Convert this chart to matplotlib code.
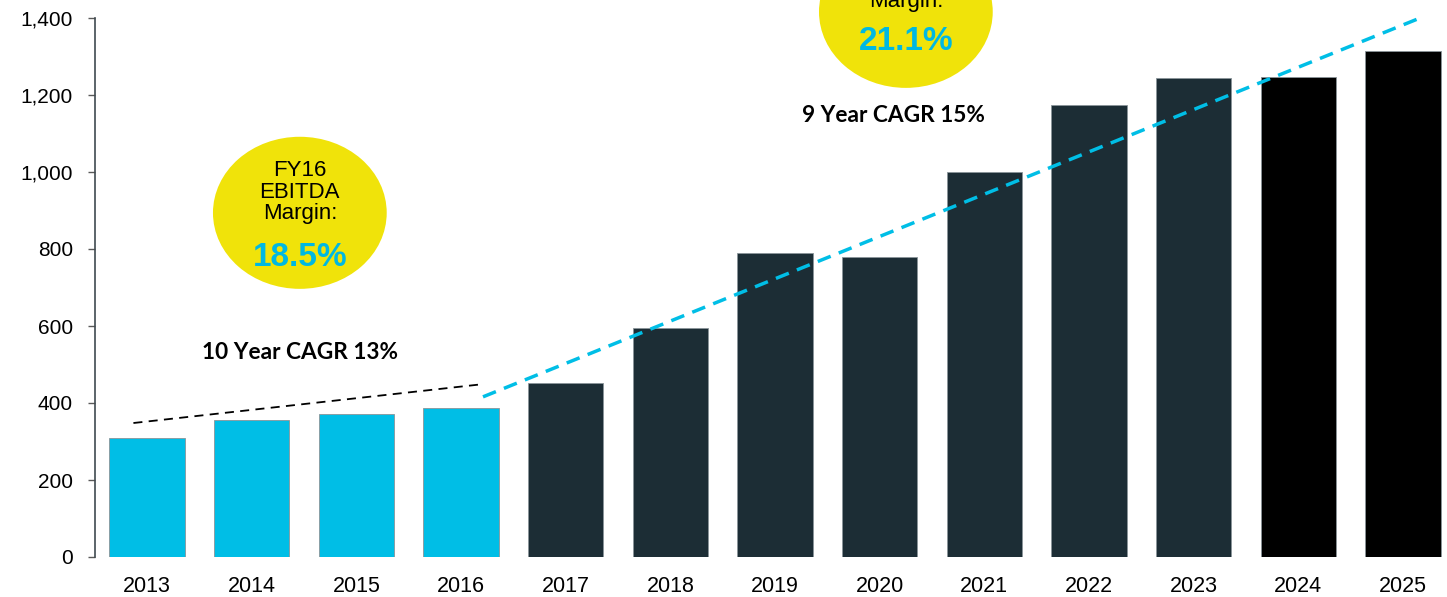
import matplotlib.pyplot as plt
from matplotlib.patches import Ellipse
import numpy as np

# Data
years = ['2013', '2014', '2015', '2016', '2017', '2018', '2019', '2020',
         '2021', '2022', '2023', '2024', '2025']
values = [309, 356, 371, 387, 452, 595, 790, 779, 1000, 1174, 1244, 1247, 1314]
bar_colors = ['#00BEE6'] * 4 + ['#1C2D35'] * 7 + ['#000000'] * 2
yticks = [0, 200, 400, 600, 800, 1000, 1200, 1400]

# trend lines (start / end points)
trend_10y_x = [-0.13, 3.21]
trend_10y_y = [348, 449]
trend_9y_x = [3.21, 12.19]
trend_9y_y = [416, 1403]

plt.rcParams['font.family'] = ['Liberation Sans', 'DejaVu Sans']

fig = plt.figure(figsize=(14.47, 5.97), dpi=100)
ax = fig.add_axes([95 / 1447, 40 / 597, 1 - 95 / 1447, 539 / 597])

x = np.arange(len(years))
ax.bar(x, values, width=0.72, color=bar_colors, edgecolor='#8A9499', linewidth=0.6, zorder=2)

ax.plot(trend_10y_x, trend_10y_y, color='black', linestyle=(0, (5, 3.5)), linewidth=1.3, zorder=3)
ax.plot(trend_9y_x, trend_9y_y, color='#00BEE6', linestyle=(0, (4, 2.5)), linewidth=2.5,
        zorder=3, clip_on=False)

ax.set_xlim(-0.497, 12.42)
ax.set_ylim(0, 1400)
ax.set_xticks(x)
ax.set_xticklabels(years, fontsize=15.5)
ax.set_yticks(yticks)
ax.set_yticklabels(['{:,}'.format(v) for v in yticks], fontsize=15)
ax.tick_params(axis='x', length=0, pad=14)
ax.tick_params(axis='y', length=5, width=1, color='#595959', pad=11)

for s in ['top', 'right', 'bottom']:
    ax.spines[s].set_visible(False)
ax.spines['left'].set_color('#404A50')
ax.spines['left'].set_linewidth(1.2)

# yellow bubbles
yellow = '#F0E30A'
cyan_txt = '#00B8E2'
ax.add_patch(Ellipse((1.46, 894), 1.66, 395, facecolor=yellow, edgecolor='none',
                     zorder=4, clip_on=False))
ax.add_patch(Ellipse((7.25, 1416), 1.66, 395, facecolor=yellow, edgecolor='none',
                     zorder=4, clip_on=False))

ax.text(1.46, 1003, 'FY16', ha='center', va='center', fontsize=16, zorder=5)
ax.text(1.46, 948, 'EBITDA', ha='center', va='center', fontsize=16, zorder=5)
ax.text(1.46, 893, 'Margin:', ha='center', va='center', fontsize=16, zorder=5)
ax.text(1.46, 777, '18.5%', ha='center', va='center', fontsize=24, fontweight='bold',
        color=cyan_txt, zorder=5)

ax.text(7.25, 1442, 'Margin:', ha='center', va='center', fontsize=16, zorder=5, clip_on=False)
ax.text(7.25, 1338, '21.1%', ha='center', va='center', fontsize=24, fontweight='bold',
        color=cyan_txt, zorder=5, clip_on=False)

ax.text(1.46, 532, '10 Year CAGR 13%', ha='center', va='center', fontsize=16.3,
        fontweight='bold', family=['Lato', 'DejaVu Sans'], zorder=5)
ax.text(7.13, 1148, '9 Year CAGR 15%', ha='center', va='center', fontsize=16.3,
        fontweight='bold', family=['Lato', 'DejaVu Sans'], zorder=5)

fig.savefig('out.png', dpi=100)
